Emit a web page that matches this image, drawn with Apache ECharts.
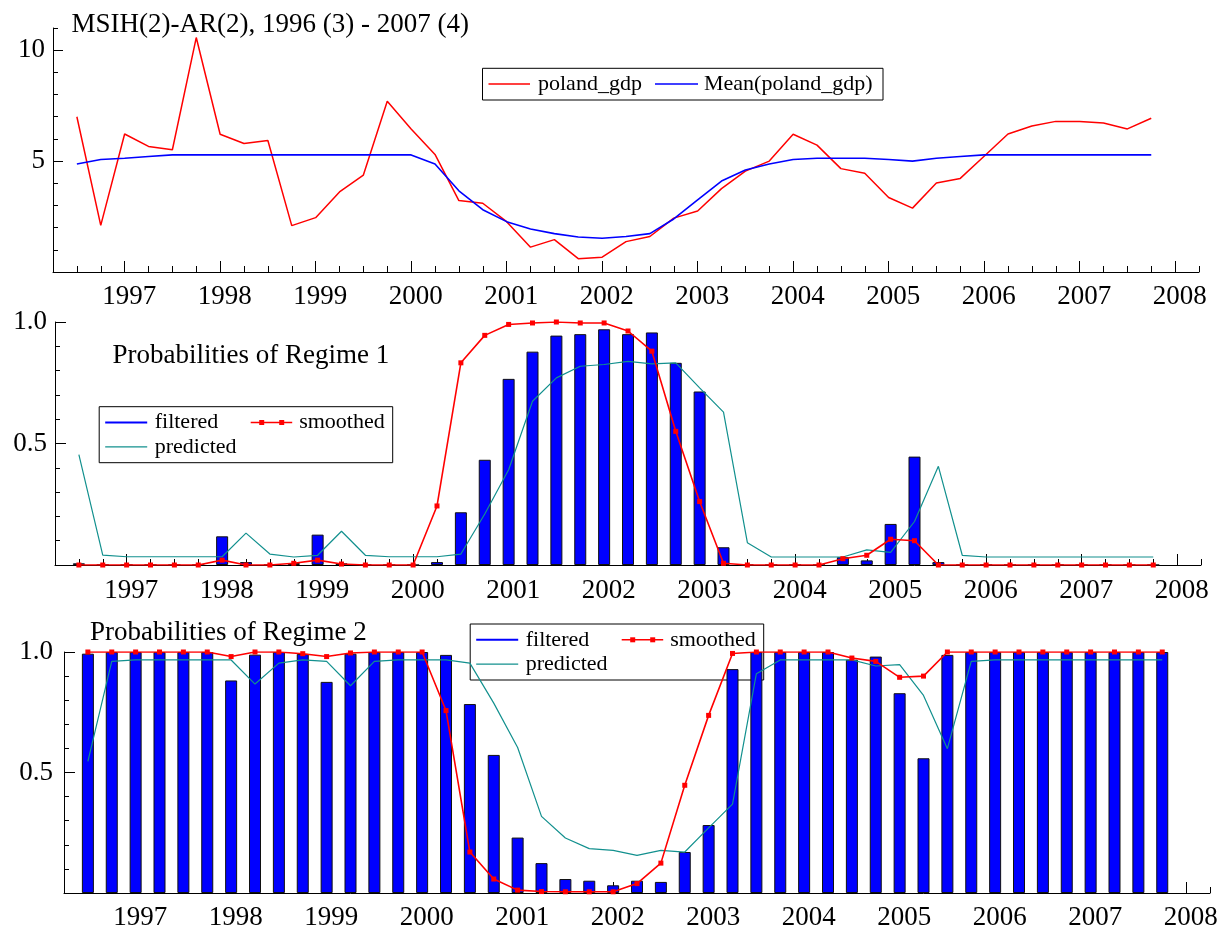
<!DOCTYPE html>
<html>
<head>
<meta charset="utf-8">
<title>MSIH(2)-AR(2)</title>
<script src="https://cdn.jsdelivr.net/npm/echarts@6/dist/echarts.min.js"></script>
<style>
html, body { margin: 0; padding: 0; background: #fff; }
#main { width: 1227px; height: 931px; }
</style>
</head>
<body>
<div id="main"></div>
<script>
// quarters 1996(3) .. 2007(4) as decimal years
var periods = [1996.5, 1996.75,
	1997, 1997.25, 1997.5, 1997.75, 1998, 1998.25, 1998.5, 1998.75,
	1999, 1999.25, 1999.5, 1999.75, 2000, 2000.25, 2000.5, 2000.75,
	2001, 2001.25, 2001.5, 2001.75, 2002, 2002.25, 2002.5, 2002.75,
	2003, 2003.25, 2003.5, 2003.75, 2004, 2004.25, 2004.5, 2004.75,
	2005, 2005.25, 2005.5, 2005.75, 2006, 2006.25, 2006.5, 2006.75,
	2007, 2007.25, 2007.5, 2007.75];
var yearLabels = [1997, 1998, 1999, 2000, 2001, 2002, 2003, 2004, 2005, 2006, 2007, 2008];

var polandGdp = [7.0, 2.1,
	6.22, 5.66, 5.51, 10.57, 6.21, 5.79, 5.93, 2.09,
	2.45, 3.61, 4.37, 7.70, 6.45, 5.30, 3.22, 3.10,
	2.27, 1.12, 1.46, 0.60, 0.67, 1.37, 1.60, 2.43,
	2.75, 3.76, 4.55, 5.00, 6.21, 5.72, 4.66, 4.45,
	3.36, 2.88, 4.01, 4.22, 5.22, 6.22, 6.58, 6.79,
	6.79, 6.72, 6.45, 6.93];
var meanGdp = [4.87, 5.07,
	5.13, 5.21, 5.28, 5.28, 5.28, 5.28, 5.28, 5.28,
	5.28, 5.28, 5.28, 5.28, 5.28, 4.87, 3.66, 2.81,
	2.27, 1.94, 1.73, 1.58, 1.52, 1.60, 1.73, 2.39,
	3.25, 4.10, 4.60, 4.87, 5.07, 5.13, 5.13, 5.13,
	5.07, 5.00, 5.13, 5.21, 5.28, 5.28, 5.28, 5.28,
	5.28, 5.28, 5.28, 5.28];

// regime 1
var filtered1 = [0.007, 0,
	0, 0, 0, 0, 0.118, 0.012, 0, 0.008,
	0.125, 0.007, 0, 0, 0, 0.012, 0.217, 0.433,
	0.766, 0.878, 0.944, 0.950, 0.970, 0.950, 0.957, 0.832,
	0.714, 0.073, 0, 0, 0, 0, 0.032, 0.019,
	0.169, 0.446, 0.012, 0, 0, 0, 0, 0,
	0, 0, 0, 0];
var smoothed1 = [0, 0,
	0, 0, 0, 0, 0.02, 0, 0, 0.007,
	0.02, 0.004, 0, 0, 0, 0.243, 0.832, 0.945,
	0.990, 0.996, 1.0, 0.996, 0.996, 0.963, 0.880, 0.550,
	0.261, 0.007, 0, 0, 0, 0, 0.026, 0.040,
	0.106, 0.100, 0, 0, 0, 0, 0, 0,
	0, 0, 0, 0];
var predicted1 = [0.454, 0.041,
	0.034, 0.034, 0.034, 0.034, 0.034, 0.131, 0.045, 0.033,
	0.040, 0.139, 0.040, 0.034, 0.034, 0.034, 0.045, 0.21,
	0.392, 0.674, 0.770, 0.818, 0.825, 0.838, 0.828, 0.832,
	0.729, 0.629, 0.092, 0.033, 0.033, 0.033, 0.033, 0.062,
	0.052, 0.179, 0.406, 0.040, 0.033, 0.033, 0.033, 0.033,
	0.033, 0.033, 0.033, 0.033];

// regime 2
var filtered2 = [0.993, 1.0,
	1.0, 1.0, 1.0, 1.0, 0.882, 0.989, 1.0, 0.992,
	0.876, 0.993, 1.0, 1.0, 1.0, 0.988, 0.784, 0.573,
	0.230, 0.124, 0.058, 0.051, 0.032, 0.051, 0.046, 0.170,
	0.282, 0.929, 1.0, 1.0, 1.0, 1.0, 0.968, 0.981,
	0.829, 0.559, 0.988, 1.0, 1.0, 1.0, 1.0, 1.0,
	1.0, 1.0, 1.0, 1.0];
var smoothed2 = [1.0, 1.0,
	1.0, 1.0, 1.0, 1.0, 0.981, 1.0, 1.0, 0.993,
	0.981, 0.996, 1.0, 1.0, 1.0, 0.757, 0.170, 0.058,
	0.012, 0.006, 0.005, 0.005, 0.005, 0.039, 0.124, 0.447,
	0.737, 0.994, 1.0, 1.0, 1.0, 1.0, 0.975, 0.961,
	0.895, 0.900, 1.0, 1.0, 1.0, 1.0, 1.0, 1.0,
	1.0, 1.0, 1.0, 1.0];
var predicted2 = [0.546, 0.961,
	0.967, 0.967, 0.967, 0.967, 0.967, 0.867, 0.954, 0.967,
	0.961, 0.860, 0.961, 0.967, 0.967, 0.967, 0.954, 0.788,
	0.604, 0.318, 0.228, 0.184, 0.177, 0.156, 0.177, 0.170,
	0.27, 0.369, 0.910, 0.967, 0.967, 0.967, 0.967, 0.942,
	0.948, 0.820, 0.599, 0.961, 0.967, 0.967, 0.967, 0.967,
	0.967, 0.967, 0.967, 0.967];

var FONT = "'Liberation Serif', 'Times New Roman', serif";
var RED = '#ff0000', BLUE = '#0000ff', TEAL = '#12908e';

var quarterTicks = [];
for (var t = 1996.5; t <= 2008.26; t += 0.25) quarterTicks.push(t);

function pairs(ys) {
	var out = [];
	for (var i = 0; i < ys.length; i++) out.push([periods[i], ys[i]]);
	return out;
}

var grids = [
	{ left: 53, right: 28, top: 28, bottom: 659 },
	{ left: 55, right: 26, top: 322, bottom: 366 },
	{ left: 64, right: 17, top: 652, bottom: 37 }
];
var labelMargins = [11, 12, 11];

var xAxes = [];
var yAxes = [];
for (var g = 0; g < 3; g++) {
	// quarter ticks + year labels
	xAxes.push({
		type: 'value', gridIndex: g, position: 'bottom', min: 1996.25, max: 2008.25,
		splitLine: { show: false },
		axisLine: { lineStyle: { color: '#000', width: 1 } },
		axisTick: { inside: true, length: 6, customValues: quarterTicks, lineStyle: { color: '#000' } },
		axisLabel: {
			customValues: yearLabels, margin: labelMargins[g], padding: [0, 0, 0, 9],
			color: '#000', fontSize: 27, fontFamily: FONT,
			formatter: function (v) { return String(Math.round(v)); }
		}
	});
	// longer year ticks
	xAxes.push({
		type: 'value', gridIndex: g, position: 'bottom', min: 1996.25, max: 2008.25,
		splitLine: { show: false },
		axisLine: { show: false },
		axisTick: { inside: true, length: 11, customValues: yearLabels, lineStyle: { color: '#000' } },
		axisLabel: { show: false }
	});
}

yAxes.push({
	type: 'value', gridIndex: 0, position: 'left', min: 0, max: 11,
	splitLine: { show: false },
	axisLine: { show: true, lineStyle: { color: '#000' } },
	axisTick: { show: true, inside: true, length: 5, customValues: [1, 2, 3, 4, 5, 6, 7, 8, 9, 10, 11], lineStyle: { color: '#000' } },
	axisLabel: { customValues: [5, 10], margin: 8, color: '#000', fontSize: 27, fontFamily: FONT }
});
yAxes.push({
	type: 'value', gridIndex: 0, position: 'left', min: 0, max: 11,
	splitLine: { show: false }, axisLine: { show: false },
	axisTick: { show: true, inside: true, length: 10, customValues: [5, 10], lineStyle: { color: '#000' } },
	axisLabel: { show: false }
});
for (var p = 1; p < 3; p++) {
	yAxes.push({
		type: 'value', gridIndex: p, position: 'left', min: 0, max: 1,
		splitLine: { show: false },
		axisLine: { show: true, lineStyle: { color: '#000' } },
		axisTick: { show: true, inside: true, length: 5, customValues: [0.1, 0.2, 0.3, 0.4, 0.5, 0.6, 0.7, 0.8, 0.9, 1.0], lineStyle: { color: '#000' } },
		axisLabel: {
			customValues: [0.5, 1.0], margin: p === 1 ? 8 : 11, color: '#000', fontSize: 27, fontFamily: FONT,
			formatter: function (v) { return v.toFixed(1); }
		}
	});
	yAxes.push({
		type: 'value', gridIndex: p, position: 'left', min: 0, max: 1,
		splitLine: { show: false }, axisLine: { show: false },
		axisTick: { show: true, inside: true, length: 11, customValues: [0.5, 1.0], lineStyle: { color: '#000' } },
		axisLabel: { show: false }
	});
}

function probSeries(g, filtered, smoothed, predicted) {
	return [{
		name: 'filtered', type: 'bar', xAxisIndex: g * 2, yAxisIndex: g * 2,
		data: pairs(filtered), barWidth: 12,
		itemStyle: { color: BLUE, borderColor: '#111', borderWidth: 1 }
	}, {
		name: 'predicted', type: 'line', xAxisIndex: g * 2, yAxisIndex: g * 2,
		data: pairs(predicted), symbol: 'none',
		lineStyle: { color: TEAL, width: 1.2 }
	}, {
		name: 'smoothed', type: 'line', xAxisIndex: g * 2, yAxisIndex: g * 2,
		data: pairs(smoothed), symbol: 'rect', symbolSize: 5,
		itemStyle: { color: RED }, lineStyle: { color: RED, width: 1.6 }
	}];
}

var series = [{
	name: 'poland_gdp', type: 'line', xAxisIndex: 0, yAxisIndex: 0,
	data: pairs(polandGdp), symbol: 'none', lineStyle: { color: RED, width: 1.5 }
}, {
	name: 'Mean(poland_gdp)', type: 'line', xAxisIndex: 0, yAxisIndex: 0,
	data: pairs(meanGdp), symbol: 'none', lineStyle: { color: BLUE, width: 1.6 }
}].concat(probSeries(1, filtered1, smoothed1, predicted1), probSeries(2, filtered2, smoothed2, predicted2));

// titles and legend boxes
function text(x, y, s, size) {
	return { type: 'text', x: x, y: y, style: { text: s, fill: '#000', font: size + 'px ' + FONT, verticalAlign: 'middle' } };
}
function seg(x1, x2, y, color, w) {
	return { type: 'line', shape: { x1: x1, y1: y, x2: x2, y2: y }, style: { stroke: color, lineWidth: w } };
}
function dot(x, y) {
	return { type: 'rect', shape: { x: x - 2.5, y: y - 2.5, width: 5, height: 5 }, style: { fill: RED } };
}
function probLegend(ox, oy) {
	var r1 = oy + 15.8, r2 = oy + 40.2;
	return [
		{ type: 'rect', shape: { x: ox, y: oy, width: 293.5, height: 56 }, style: { fill: 'none', stroke: '#000', lineWidth: 1 } },
		seg(ox + 6, ox + 48, r1, BLUE, 2), text(ox + 55.5, r1, 'filtered', 22),
		seg(ox + 151.5, ox + 193, r1, RED, 1.6), dot(ox + 162.5, r1), dot(ox + 182.5, r1), text(ox + 200, r1, 'smoothed', 22),
		seg(ox + 6, ox + 48, r2, TEAL, 1.2), text(ox + 55.5, r2, 'predicted', 22)
	];
}

var graphics = [
	text(71.5, 24.6, 'MSIH(2)-AR(2), 1996 (3) - 2007 (4)', 27),
	text(112.5, 355.5, 'Probabilities of Regime 1', 27),
	text(90, 632.5, 'Probabilities of Regime 2', 27),
	{ type: 'rect', shape: { x: 482.5, y: 68.3, width: 400.5, height: 31.7 }, style: { fill: 'none', stroke: '#000', lineWidth: 1 } },
	seg(488.5, 530, 84, RED, 1.5), text(538, 84, 'poland_gdp', 22),
	seg(655, 698, 84, BLUE, 1.6), text(704, 84, 'Mean(poland_gdp)', 22)
].concat(probLegend(99.2, 406.7), probLegend(470.2, 624));

var chart = echarts.init(document.getElementById('main'));
chart.setOption({
	backgroundColor: '#fff',
	animation: false,
	grid: grids,
	xAxis: xAxes,
	yAxis: yAxes,
	series: series,
	graphic: graphics
});
</script>
</body>
</html>
